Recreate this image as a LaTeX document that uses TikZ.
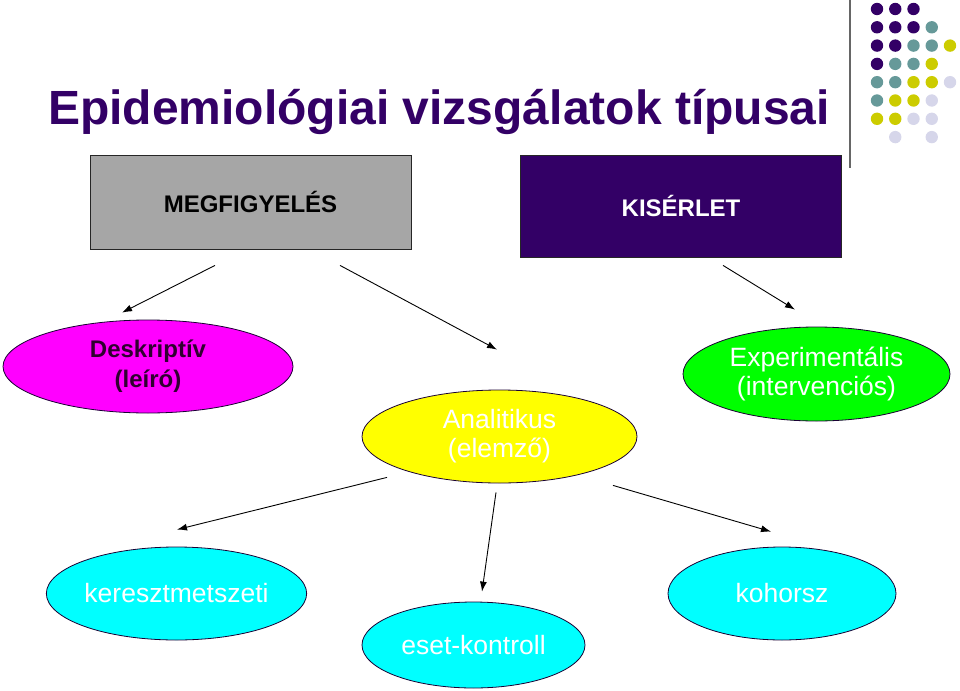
\documentclass[tikz,border=0pt]{standalone}
\usepackage{fontspec}
\setmainfont{Liberation Sans}
\usetikzlibrary{positioning, arrows.meta, shapes.geometric}
\definecolor{EPIpurple}{RGB}{51, 0, 102}
\definecolor{EPIgray}{RGB}{166, 166, 166}
\definecolor{EPIteal}{RGB}{102, 153, 153}
\definecolor{EPIolive}{RGB}{204, 204, 0}
\definecolor{EPIlilac}{RGB}{214, 214, 234}
\definecolor{EPIdark}{RGB}{48, 0, 48}
\definecolor{EPImagenta}{RGB}{255, 0, 255}
\definecolor{EPIyellow}{RGB}{255, 255, 0}
\definecolor{EPIgreen}{RGB}{0, 255, 0}
\definecolor{EPIcyan}{RGB}{0, 255, 255}
\tikzset{
  box/.style={rectangle, draw=black!85, line width=0.8pt, minimum width=321pt,
    minimum height=94pt, inner sep=0pt, font=\bfseries\fontsize{24}{29}\selectfont},
  kind/.style={ellipse, draw=EPIpurple!50!black, line width=0.8pt, inner sep=0pt,
    align=center, text=white, font=\fontsize{26.5}{29}\selectfont},
  flow/.style={-{Latex[length=10pt, width=7pt]}, line width=0.9pt, black},
  blob/.style={fill=#1},
}

\begin{document}
\begin{tikzpicture}[x=1pt, y=-1pt]
    \useasboundingbox (0,0) rectangle (960,690);
    % title and corner ornament
    \node[anchor=base west, inner sep=0pt, text=EPIpurple,
      font=\bfseries\fontsize{48}{56}\selectfont] (title) at (48,124.5) {Epidemiológiai vizsgálatok típusai};
    \draw[black!60, line width=1.2pt] (850,0) -- (850,168);
    \foreach \c/\r/\col in {0/0/EPIpurple, 1/0/EPIpurple, 2/0/EPIpurple,
        0/1/EPIpurple, 1/1/EPIpurple, 2/1/EPIpurple, 3/1/EPIteal,
        0/2/EPIpurple, 1/2/EPIpurple, 2/2/EPIteal, 3/2/EPIteal, 4/2/EPIolive,
        0/3/EPIpurple, 1/3/EPIteal, 2/3/EPIteal, 3/3/EPIolive,
        0/4/EPIteal, 1/4/EPIteal, 2/4/EPIolive, 3/4/EPIolive, 4/4/EPIlilac,
        0/5/EPIteal, 1/5/EPIolive, 2/5/EPIolive, 3/5/EPIlilac,
        0/6/EPIolive, 1/6/EPIolive, 2/6/EPIlilac, 3/6/EPIlilac,
        1/7/EPIlilac, 3/7/EPIlilac}
      \fill[blob=\col] (877+18.25*\c, 9+18.3*\r) circle (6.2pt);
    % top level
    \node[box, fill=EPIgray] (megf) at (250.5,202) {MEGFIGYELÉS};
    \node[box, fill=EPIpurple, text=white, minimum height=102pt] (kis) at (681,206) {KISÉRLET};
    % study types
    \node[kind, fill=EPImagenta, text=EPIdark, minimum width=290pt, minimum height=93pt,
      font=\bfseries\fontsize{24}{30}\selectfont] (leiro) at (148,366.5) {Deskriptív\\(leíró)};
    \node[kind, fill=EPIyellow, minimum width=275pt, minimum height=93pt] (elemzo) at (499.5,436.5) {Analitikus\\(elemző)};
    \node[kind, fill=EPIgreen, minimum width=267pt, minimum height=94pt] (interv) at (816.5,374) {Experimentális\\(intervenciós)};
    \node[kind, fill=EPIcyan, minimum width=237pt, minimum height=93pt] (kereszt) at (176.5,593.5) {keresztmetszeti};
    \node[kind, fill=EPIcyan, minimum width=223pt, minimum height=86pt] (eset) at (473.5,645) {eset-kontroll};
    \node[kind, fill=EPIcyan, minimum width=228pt, minimum height=93pt] (kohorsz) at (782,593.5) {kohorsz};
    % arrows
    \draw[flow] ([xshift=-35.5pt, yshift=-16pt]megf.south) -- ([xshift=-26pt, yshift=7pt]leiro.north);
    \draw[flow] ([xshift=89.5pt, yshift=-16pt]megf.south) -- ([xshift=-2.5pt, yshift=40pt]elemzo.north);
    \draw[flow] ([xshift=42pt, yshift=-8pt]kis.south) -- ([xshift=-21.5pt, yshift=17pt]interv.north);
    \draw[flow] ([xshift=-112.5pt, yshift=6pt]elemzo.south) -- ([xshift=0.5pt, yshift=17pt]kereszt.north);
    \draw[flow] ([xshift=-3.5pt, yshift=-9pt]elemzo.south) -- ([xshift=8.5pt, yshift=10pt]eset.north);
    \draw[flow] ([xshift=113.5pt, yshift=-2pt]elemzo.south) -- ([xshift=-11pt, yshift=15pt]kohorsz.north);
\end{tikzpicture}
\end{document}
